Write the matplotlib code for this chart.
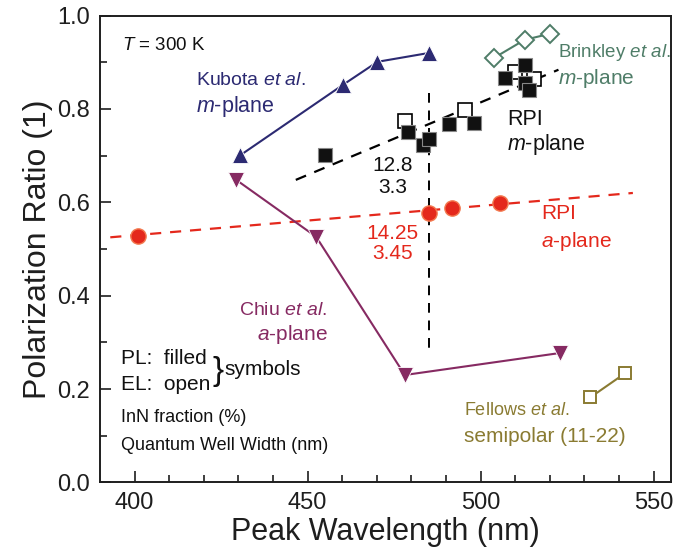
import matplotlib
matplotlib.use("Agg")
import matplotlib.pyplot as plt
import numpy as np

plt.rcParams['font.family'] = ['Liberation Sans', 'DejaVu Sans']
plt.rcParams['mathtext.fontset'] = 'custom'
plt.rcParams['mathtext.rm'] = 'Liberation Sans'
plt.rcParams['mathtext.it'] = 'Liberation Sans:italic'

# Kubota et al. m-plane (filled up triangles)
kubota_x = [430.6, 460.1, 470.2, 485.1]
kubota_y = [0.701, 0.851, 0.901, 0.920]

# Chiu et al. a-plane (filled down triangles)
chiu_x = [429.4, 452.5, 478.1, 522.8]
chiu_y = [0.648, 0.526, 0.230, 0.277]

# RPI a-plane (filled circles)
rpi_a_x = [401.0, 485.0, 491.7, 505.6]
rpi_a_y = [0.528, 0.578, 0.588, 0.598]

# RPI m-plane, PL (filled squares) and EL (open squares)
rpi_m_pl_x = [455.1, 479.1, 483.3, 485.2, 490.8, 498.0, 507.0, 512.9, 512.9, 513.9]
rpi_m_pl_y = [0.702, 0.751, 0.723, 0.736, 0.767, 0.769, 0.866, 0.894, 0.855, 0.841]
rpi_m_el_x = [478.3, 495.6, 510.0, 515.3]
rpi_m_el_y = [0.775, 0.798, 0.880, 0.864]

# Brinkley et al. m-plane (open diamonds)
brinkley_x = [503.8, 512.7, 520.0]
brinkley_y = [0.909, 0.948, 0.961]

# Fellows et al. semipolar (open squares)
fellows_x = [531.7, 541.8]
fellows_y = [0.182, 0.234]

# dashed guide lines
m_trend_x = [446.6, 522.5]
m_trend_y = [0.648, 0.884]
a_trend_x = [393.0, 544.0]
a_trend_y = [0.525, 0.620]
marker_x = [485.2, 485.2]
marker_y = [0.834, 0.279]

navy = '#2c2a72'
plum = '#862a62'
red = '#e4281c'
green = '#4f7d68'
olive = '#8a7b32'
ink = '#1e1e1e'

fig = plt.figure(figsize=(6.75, 5.57), dpi=100)
ax = fig.add_axes([0.148, 0.134, 0.846, 0.838])

ax.plot(m_trend_x, m_trend_y, color='black', lw=1.6, ls=(0, (5, 4)))
ax.plot(a_trend_x, a_trend_y, color=red, lw=1.6, ls=(0, (5, 4)))
ax.plot(marker_x, marker_y, color='black', lw=1.4, ls=(0, (5, 4)))

ax.plot(kubota_x, kubota_y, color=navy, lw=1.5, marker='^', ms=12,
        mfc=navy, mec='white', mew=0.6)
ax.plot(chiu_x, chiu_y, color=plum, lw=1.5, marker='v', ms=12,
        mfc=plum, mec='white', mew=0.6)
ax.plot(brinkley_x, brinkley_y, color=green, lw=1.5, marker='D', ms=9,
        mfc='white', mec=green, mew=1.4)
ax.plot(fellows_x, fellows_y, color=olive, lw=1.5, marker='s', ms=9,
        mfc='white', mec=olive, mew=1.4)

ax.plot(rpi_m_el_x, rpi_m_el_y, ls='none', marker='s', ms=9.5,
        mfc='white', mec='black', mew=1.2)
ax.plot(rpi_m_pl_x, rpi_m_pl_y, ls='none', marker='s', ms=9.5,
        mfc='#111111', mec='#888888', mew=0.8)
ax.plot(rpi_a_x, rpi_a_y, ls='none', marker='o', ms=11,
        mfc=red, mec='#f37a50', mew=1.0)

ax.set_xlim(390, 555)
ax.set_ylim(0, 1.0)
ax.set_xticks([400, 450, 500, 550])
ax.set_xticks(np.arange(400, 555, 10), minor=True)
ax.set_yticks(np.arange(0, 1.01, 0.2))
ax.set_yticks(np.arange(0, 1.01, 0.1), minor=True)
ax.yaxis.set_major_formatter(matplotlib.ticker.FormatStrFormatter('%.1f'))
ax.tick_params(which='both', direction='in', top=False, right=False,
               labelsize=17, width=1.2, colors=ink)
ax.tick_params(which='major', length=8, pad=7)
ax.tick_params(which='minor', length=5)
for s in ax.spines.values():
    s.set_linewidth(1.4)
    s.set_color(ink)

ax.set_xlabel('Peak Wavelength (nm)', fontsize=22, color=ink, labelpad=2)
ax.set_ylabel('Polarization Ratio (1)', fontsize=23, color=ink, labelpad=3)

txt = dict(ha='left', va='center')
ax.text(396.5, 0.937, '$T$ = 300 K', fontsize=13.5, color='#111111', **txt)
ax.text(417.8, 0.862, 'Kubota $et$ $al.$', fontsize=14, color=navy, **txt)
ax.text(417.8, 0.805, '$m$-plane', fontsize=15.5, color=navy, **txt)

ax.text(522.5, 0.922, 'Brinkley $et$ $al.$', fontsize=13.5, color=green, **txt)
ax.text(522.5, 0.866, '$m$-plane', fontsize=15, color=green, **txt)

ax.text(507.6, 0.777, 'RPI', fontsize=15.5, color='#111111', **txt)
ax.text(507.6, 0.723, '$m$-plane', fontsize=15.5, color='#111111', **txt)

ax.text(474.5, 0.678, '12.8', fontsize=15, color='#111111', ha='center', va='center')
ax.text(474.5, 0.632, '3.3', fontsize=15, color='#111111', ha='center', va='center')
ax.text(474.5, 0.534, '14.25', fontsize=15, color=red, ha='center', va='center')
ax.text(474.5, 0.491, '3.45', fontsize=15, color=red, ha='center', va='center')

ax.text(517.4, 0.577, 'RPI', fontsize=15, color=red, **txt)
ax.text(517.4, 0.517, '$a$-plane', fontsize=15, color=red, **txt)

ax.text(455.7, 0.369, 'Chiu $et$ $al.$', fontsize=14, color=plum, ha='right', va='center')
ax.text(455.7, 0.316, '$a$-plane', fontsize=15, color=plum, ha='right', va='center')

ax.text(396.2, 0.266, 'PL:  filled', fontsize=15, color='#111111', **txt)
ax.text(396.2, 0.209, 'EL:  open', fontsize=15, color='#111111', **txt)
ax.text(422.5, 0.238, '}', fontsize=24, color='#111111', **txt)
ax.text(426.0, 0.241, 'symbols', fontsize=15, color='#111111', **txt)

narrow = ['Liberation Sans Narrow', 'Liberation Sans']
ax.text(396.2, 0.140, 'InN fraction (%)', fontsize=13, color='#111111',
        family=narrow, **txt)
ax.text(396.2, 0.080, 'Quantum Well Width (nm)', fontsize=13, color='#111111',
        family=narrow, **txt)

ax.text(495.2, 0.155, 'Fellows $et$ $al.$', fontsize=13, color=olive, **txt)
ax.text(495.2, 0.098, 'semipolar (11-22)', fontsize=15, color=olive, **txt)

fig.savefig('out.png', dpi=100)
